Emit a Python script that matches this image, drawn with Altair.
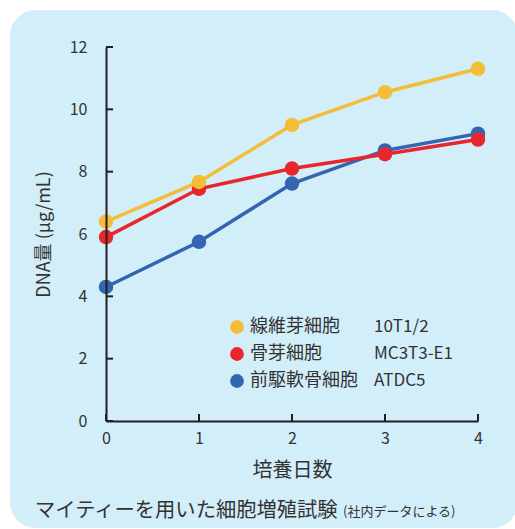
import altair as alt
import pandas as pd

days = [0, 1, 2, 3, 4]
names = ["線維芽細胞", "骨芽細胞", "前駆軟骨細胞"]
codes = ["10T1/2", "MC3T3-E1", "ATDC5"]
fibro_vals = [6.4, 7.67, 9.5, 10.55, 11.3]
osteo_vals = [5.9, 7.45, 8.1, 8.56, 9.03]
chondro_vals = [4.3, 5.75, 7.62, 8.68, 9.22]
colors = ["#f3bd38", "#e8262b", "#3465b1"]
y_ticks = [0, 2, 4, 6, 8, 10, 12]
x_ticks = [0, 1, 2, 3, 4]
x_title = "培養日数"
y_title = "DNA量 (μg/mL)"
caption_main = "マイティーを用いた細胞増殖試験"
caption_note = "(社内データによる)"

FONT = "Noto Sans CJK JP"
TXT = "#333333"
W, H = 372, 374
PL, PT = 106, 47

rows = []
for n, vals in zip(names, [fibro_vals, osteo_vals, chondro_vals]):
    for d, v in zip(days, vals):
        rows.append({"series": n, "day": d, "dna": v})
df = pd.DataFrame(rows)

xscale = alt.Scale(domain=[0, 4], nice=False)
yscale = alt.Scale(domain=[0, 12], nice=False)
color_scale = alt.Scale(domain=names, range=colors)

one = pd.DataFrame({"a": [0]})

bg = alt.Chart(one).mark_rect(fill="#d2eef9", cornerRadius=26).encode(
    x=alt.value(10 - PL), x2=alt.value(518 - PL),
    y=alt.value(10 - PT), y2=alt.value(528 - PT),
)

xaxis = alt.Axis(values=x_ticks, title=x_title, format="d", labelFlush=False,
                 labelPadding=9, titlePadding=14,
                 labelFontSize=16, titleFontSize=20, titleFontWeight="normal", zindex=1)
yaxis = alt.Axis(values=y_ticks, title=y_title, format="d", labelFlush=False,
                 labelPadding=19, titlePadding=16,
                 labelFontSize=16, titleFontSize=18, titleFontWeight="normal", zindex=1)

axes_base = alt.Chart(df).mark_point(opacity=0).encode(
    x=alt.X("day:Q", scale=xscale, axis=xaxis),
    y=alt.Y("dna:Q", scale=yscale, axis=yaxis),
)

ytick_df = pd.DataFrame({"v": y_ticks})
xtick_df = pd.DataFrame({"v": x_ticks})
yticks = alt.Chart(ytick_df).mark_rule(color="#231f20", strokeWidth=2).encode(
    y=alt.Y("v:Q", scale=yscale), x=alt.value(0), x2=alt.value(7))
xticks = alt.Chart(xtick_df).mark_rule(color="#231f20", strokeWidth=2).encode(
    x=alt.X("v:Q", scale=xscale), y=alt.value(H), y2=alt.value(H - 7))

series_layers = []
for n in [names[2], names[1], names[0]]:
    sub = df[df["series"] == n]
    base = alt.Chart(sub).encode(
        x=alt.X("day:Q", scale=xscale),
        y=alt.Y("dna:Q", scale=yscale),
        color=alt.Color("series:N", scale=color_scale, legend=None),
    )
    series_layers.append(base.mark_line(strokeWidth=3.5))
    series_layers.append(base.mark_circle(size=210, opacity=1))

legend_layers = []
row_y = [327, 354, 381]
for i in range(3):
    ry = row_y[i] - PT
    d = pd.DataFrame({"name": [names[i]], "code": [codes[i]]})
    legend_layers.append(alt.Chart(d).mark_circle(size=190, opacity=1, color=colors[i]).encode(
        x=alt.value(237 - PL), y=alt.value(ry)))
    legend_layers.append(alt.Chart(d).mark_text(align="left", baseline="middle", fontSize=18,
                                                color=TXT, font=FONT).encode(
        x=alt.value(250 - PL), y=alt.value(ry), text="name:N"))
    legend_layers.append(alt.Chart(d).mark_text(align="left", baseline="middle", fontSize=17,
                                                color=TXT, font=FONT).encode(
        x=alt.value(374 - PL), y=alt.value(ry), text="code:N"))

cap = pd.DataFrame({"m": [caption_main], "n": [caption_note]})
cap1 = alt.Chart(cap).mark_text(align="left", baseline="middle", fontSize=20.3, color=TXT,
                                font=FONT).encode(x=alt.value(35 - PL), y=alt.value(511 - PT), text="m:N")
cap2 = alt.Chart(cap).mark_text(align="left", baseline="middle", fontSize=13, color=TXT,
                                font=FONT).encode(x=alt.value(343 - PL), y=alt.value(512 - PT), text="n:N")

chart = alt.layer(bg, axes_base, yticks, xticks, *series_layers, *legend_layers, cap1, cap2).properties(
    width=W, height=H,
    autosize=alt.AutoSizeParams(type="none"),
    padding={"left": PL, "top": PT, "right": 515 - PL - W, "bottom": 529 - PT - H},
    background="white",
).configure_view(stroke=None).configure_axis(
    grid=False, ticks=False, domainColor="#231f20", domainWidth=2,
    labelColor=TXT, titleColor=TXT, labelFont=FONT, titleFont=FONT,
).configure_text(font=FONT)

chart.save("out.html", embed_options={"renderer": "svg", "actions": False})
